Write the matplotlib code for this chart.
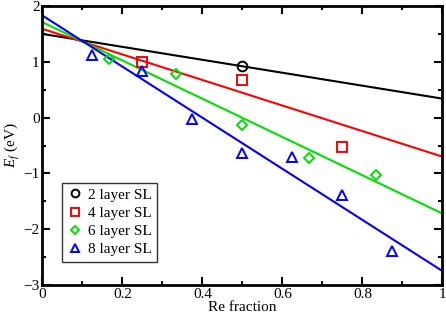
import matplotlib
matplotlib.use("Agg")
import matplotlib.pyplot as plt
import numpy as np
from matplotlib.ticker import MultipleLocator

plt.rcParams['font.family'] = ['Liberation Serif', 'DejaVu Serif']
plt.rcParams['mathtext.fontset'] = 'custom'
plt.rcParams['mathtext.rm'] = 'Liberation Serif'
plt.rcParams['mathtext.it'] = 'Liberation Serif:italic'

labels = ["2 layer SL", "4 layer SL", "6 layer SL", "8 layer SL"]
colors = ["black", "red", "#00e000", "blue"]
markers = ["o", "s", "D", "^"]

x2 = [0.5]
y2 = [0.92]
x4 = [0.25, 0.5, 0.75]
y4 = [1.00, 0.68, -0.53]
x6 = [1/6, 1/3, 0.5, 2/3, 5/6]
y6 = [1.05, 0.78, -0.14, -0.72, -1.03]
x8 = [0.125, 0.25, 0.375, 0.5, 0.625, 0.75, 0.875]
y8 = [1.13, 0.84, -0.02, -0.63, -0.71, -1.38, -2.39]

# fit lines: endpoints at x=0 and x=1
fit_x = [0.0, 1.0]
fit2 = [1.50, 0.34]
fit4 = [1.59, -0.70]
fit6 = [1.71, -1.72]
fit8 = [1.83, -2.75]

xs = [x2, x4, x6, x8]
ys = [y2, y4, y6, y8]
fits = [fit2, fit4, fit6, fit8]

fig = plt.figure(figsize=(4.46, 3.17), dpi=100)
ax = fig.add_axes([0.095, 0.101, 0.897, 0.880])

for f, c in zip(fits, colors):
    ax.plot(fit_x, f, color=c, lw=1.5, zorder=2)

msizes = [7, 6.5, 5, 7]
for x, y, c, m, l, ms in zip(xs, ys, colors, markers, labels, msizes):
    ax.plot(x, y, linestyle='none', marker=m, mfc='none', mec=c, mew=1.4,
            ms=ms, label=l, zorder=3)

ax.set_xlim(0, 1)
ax.set_ylim(-3, 2)
ax.xaxis.set_minor_locator(MultipleLocator(0.1))
ax.yaxis.set_minor_locator(MultipleLocator(0.5))
ax.set_xticks([0, 0.2, 0.4, 0.6, 0.8, 1.0])
ax.set_xticklabels(["0", "0.2", "0.4", "0.6", "0.8", "1"])
ax.set_yticks([-3, -2, -1, 0, 1, 2])
ax.set_yticklabels(["\u22123", "\u22122", "\u22121", "0", "1", "2"])
ax.tick_params(which='both', direction='in', top=True, right=True, labelsize=11, width=1.5)
ax.tick_params(which='major', length=6, pad=2)
ax.tick_params(which='minor', length=3)
for s in ax.spines.values():
    s.set_linewidth(2)

ax.set_xlabel("Re fraction", fontsize=11, labelpad=0)
ax.set_ylabel(r"$E_f$ (eV)", fontsize=11)
ax.yaxis.set_label_coords(-0.052, 0.5)

leg = ax.legend(loc='lower left', bbox_to_anchor=(0.048, 0.083), fontsize=11,
                frameon=True, fancybox=False, edgecolor='black', handlelength=1.0,
                handletextpad=0.4, borderpad=0.35, labelspacing=0.3, borderaxespad=0,
                markerscale=0.8)
leg.get_frame().set_linewidth(1.0)

fig.savefig("out.png", dpi=100)
